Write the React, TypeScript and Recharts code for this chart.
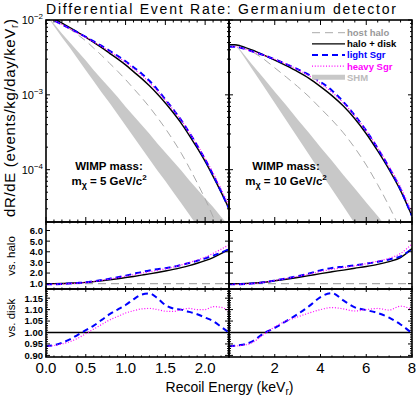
import React from "react";
import { ComposedChart, Line, Area, XAxis, YAxis, ReferenceLine } from "recharts";

const W = 416;
const H = 395;
const FONT = "'Liberation Sans', Arial, sans-serif";

// recoil energies (keV_r) sampled in each column
const eLeft = [0, 0.1, 0.2, 0.3, 0.4, 0.5, 0.6, 0.7, 0.8, 0.9, 1.0, 1.1, 1.2, 1.3, 1.4, 1.5, 1.6, 1.7, 1.8, 1.9, 2.0, 2.1, 2.2, 2.3];
const eRight = [0, 0.25, 0.5, 1, 1.5, 2, 2.5, 3, 3.5, 4, 4.5, 5, 5.5, 6, 6.5, 7, 7.5, 8];

// top row as log10(dR/dE)
const leftHostLog = [-1.92, -1.982, -2.049, -2.121, -2.198, -2.279, -2.376, -2.474, -2.579, -2.684, -2.796, -2.915, -3.035, -3.163, -3.302, -3.45, -3.609, -3.78, -3.971, -4.175, -4.391, -4.629, -4.882, -5.148];
const leftDiskLog = [-1.92, -1.98, -2.04, -2.1, -2.165, -2.23, -2.3, -2.37, -2.445, -2.52, -2.6, -2.69, -2.78, -2.88, -2.99, -3.11, -3.24, -3.38, -3.54, -3.71, -3.89, -4.09, -4.3, -4.52];
const leftLightLog = [-1.947, -2.005, -2.06, -2.113, -2.169, -2.226, -2.287, -2.347, -2.412, -2.479, -2.551, -2.631, -2.714, -2.812, -2.929, -3.061, -3.197, -3.339, -3.503, -3.677, -3.863, -4.069, -4.289, -4.52];
const leftHeavyLog = [-1.947, -2.006, -2.062, -2.118, -2.176, -2.232, -2.294, -2.355, -2.422, -2.491, -2.565, -2.651, -2.737, -2.837, -2.949, -3.071, -3.202, -3.339, -3.497, -3.669, -3.849, -4.044, -4.255, -4.481];
const leftShmLoLog = [-1.93, -2.08, -2.23, -2.37, -2.52, -2.67, -2.82, -2.97, -3.11, -3.26, -3.41, -3.56, -3.71, -3.86, -4.01, -4.15, -4.3, -4.45, -4.6, -4.75, -4.9, -5.05, -5.2, -5.35];
const leftShmHiLog = [-1.93, -2.05, -2.18, -2.3, -2.42, -2.54, -2.67, -2.79, -2.91, -3.03, -3.16, -3.28, -3.4, -3.52, -3.65, -3.77, -3.89, -4.01, -4.14, -4.26, -4.38, -4.5, -4.63, -4.75];

const rightHostLog = [-2.33, -2.33, -2.349, -2.421, -2.518, -2.639, -2.762, -2.889, -3.026, -3.18, -3.336, -3.508, -3.709, -3.938, -4.2, -4.489, -4.818, -5.254];
const rightDiskLog = [-2.33, -2.33, -2.345, -2.4, -2.465, -2.535, -2.61, -2.69, -2.78, -2.89, -3.01, -3.15, -3.32, -3.52, -3.75, -4.0, -4.28, -4.62];
const rightLightLog = [-2.357, -2.356, -2.37, -2.418, -2.467, -2.526, -2.589, -2.657, -2.733, -2.827, -2.941, -3.093, -3.275, -3.479, -3.715, -3.973, -4.265, -4.621];
const rightHeavyLog = [-2.357, -2.356, -2.371, -2.42, -2.469, -2.524, -2.589, -2.661, -2.745, -2.849, -2.965, -3.107, -3.281, -3.479, -3.707, -3.959, -4.233, -4.578];
const rightShmLoLog = [-2.33, -2.33, -2.42, -2.65, -2.88, -3.11, -3.34, -3.57, -3.8, -4.03, -4.26, -4.49, -4.72, -4.95, -5.18, -5.41, -5.64, -5.87];
const rightShmHiLog = [-2.33, -2.33, -2.4, -2.59, -2.77, -2.96, -3.14, -3.33, -3.51, -3.7, -3.88, -4.07, -4.25, -4.44, -4.62, -4.81, -4.99, -5.18];

// middle row: ratio to host halo
const leftDiskVsHalo = [1.0, 1.005, 1.02, 1.05, 1.08, 1.12, 1.19, 1.27, 1.36, 1.46, 1.57, 1.68, 1.8, 1.92, 2.05, 2.19, 2.34, 2.51, 2.7, 2.92, 3.17, 3.46, 3.82, 4.25];
const leftLightVsHalo = [0.94, 0.95, 0.974, 1.019, 1.069, 1.131, 1.226, 1.34, 1.469, 1.606, 1.758, 1.924, 2.097, 2.246, 2.358, 2.453, 2.586, 2.761, 2.943, 3.154, 3.376, 3.633, 3.916, 4.25];
const leftHeavyVsHalo = [0.94, 0.948, 0.969, 1.008, 1.053, 1.114, 1.208, 1.314, 1.435, 1.562, 1.703, 1.84, 1.985, 2.122, 2.255, 2.394, 2.555, 2.761, 2.984, 3.212, 3.487, 3.851, 4.24, 4.654];
const rightDiskVsHalo = [1.0, 1.0, 1.01, 1.05, 1.13, 1.27, 1.42, 1.58, 1.76, 1.95, 2.12, 2.28, 2.45, 2.62, 2.82, 3.08, 3.45, 4.3];
const rightLightVsHalo = [0.94, 0.942, 0.954, 1.008, 1.124, 1.295, 1.491, 1.706, 1.962, 2.252, 2.485, 2.599, 2.72, 2.877, 3.06, 3.28, 3.571, 4.287];
const rightHeavyVsHalo = [0.94, 0.941, 0.952, 1.003, 1.119, 1.302, 1.491, 1.687, 1.91, 2.145, 2.351, 2.515, 2.68, 2.882, 3.116, 3.382, 3.847, 4.734];

// bottom row: ratio to halo + disk
const leftLightVsDisk = [0.94, 0.945, 0.955, 0.97, 0.99, 1.01, 1.03, 1.055, 1.08, 1.1, 1.12, 1.145, 1.165, 1.17, 1.15, 1.12, 1.105, 1.1, 1.09, 1.08, 1.065, 1.05, 1.025, 1.0];
const leftHeavyVsDisk = [0.94, 0.943, 0.95, 0.96, 0.975, 0.995, 1.015, 1.035, 1.055, 1.07, 1.085, 1.095, 1.103, 1.105, 1.1, 1.093, 1.092, 1.1, 1.105, 1.1, 1.1, 1.113, 1.11, 1.095];
const rightLightVsDisk = [0.94, 0.942, 0.945, 0.96, 0.995, 1.02, 1.05, 1.08, 1.115, 1.155, 1.172, 1.14, 1.11, 1.098, 1.085, 1.065, 1.035, 0.997];
const rightHeavyVsDisk = [0.94, 0.941, 0.943, 0.955, 0.99, 1.025, 1.05, 1.068, 1.085, 1.1, 1.109, 1.103, 1.094, 1.1, 1.105, 1.098, 1.115, 1.101];

// ticks
const xTicksLeft = [0, 0.1, 0.2, 0.3, 0.4, 0.5, 0.6, 0.7, 0.8, 0.9, 1.0, 1.1, 1.2, 1.3, 1.4, 1.5, 1.6, 1.7, 1.8, 1.9, 2.0, 2.1, 2.2];
const xMajorLeft = [0, 0.5, 1.0, 1.5, 2.0];
const xTicksRight = [0, 0.5, 1, 1.5, 2, 2.5, 3, 3.5, 4, 4.5, 5, 5.5, 6, 6.5, 7, 7.5, 8];
const xMajorRight = [0, 2, 4, 6, 8];
const logTicks = [1e-2, 9e-3, 8e-3, 7e-3, 6e-3, 5e-3, 4e-3, 3e-3, 2e-3, 1e-3, 9e-4, 8e-4, 7e-4, 6e-4, 5e-4, 4e-4, 3e-4, 2e-4, 1e-4, 9e-5, 8e-5, 7e-5, 6e-5, 5e-5, 4e-5, 3e-5, 2e-5];
const logMajor = [1e-2, 1e-3, 1e-4];
const haloTicks = [1, 2, 3, 4, 5, 6];
const diskTicks = [0.9, 0.91, 0.92, 0.93, 0.94, 0.95, 0.96, 0.97, 0.98, 0.99, 1.0, 1.01, 1.02, 1.03, 1.04, 1.05, 1.06, 1.07, 1.08, 1.09, 1.1, 1.11, 1.12, 1.13, 1.14, 1.15, 1.16, 1.17, 1.18];
const diskMajor = [0.9, 0.95, 1.0, 1.05, 1.1, 1.15];

const COLS = [{ x0: 46, x1: 229 }, { x0: 229, x1: 412 }];
const ROWS = [{ y0: 20, y1: 222 }, { y0: 222, y1: 289 }, { y0: 289, y1: 357 }];

const HOST = "#aaaaaa";
const BLUE = "#0000ff";
const MAGENTA = "#ff00ff";

const topTable = (e: number[], host: number[], disk: number[], light: number[], heavy: number[], lo: number[], hi: number[]) =>
  e.map((E, i) => ({
    E,
    host: 10 ** host[i],
    disk: 10 ** disk[i],
    light: 10 ** light[i],
    heavy: 10 ** heavy[i],
    shm: [10 ** lo[i], 10 ** hi[i]],
  }));

const ratioTable = (e: number[], a: number[], b: number[], c?: number[]) =>
  e.map((E, i) => ({ E, disk: c ? a[i] : undefined, light: c ? b[i] : a[i], heavy: c ? c[i] : b[i] }));

const near = (a: number, b: number) => Math.abs(a - b) <= 1e-9 + Math.abs(b) * 1e-6;

function xTick(majors: number[], plotH: number, len: number, label?: (v: number) => string | null) {
  return (p: any) => {
    const v = p.payload.value;
    const major = majors.some((m) => near(v, m));
    const l = major ? len : len / 2;
    const text = major && label ? label(v) : null;
    return (
      <g>
        <line x1={p.x} x2={p.x} y1={p.y} y2={p.y - l} stroke="#000" />
        <line x1={p.x} x2={p.x} y1={p.y - plotH} y2={p.y - plotH + l} stroke="#000" />
        {text && (
          <text x={p.x} y={p.y + 16} textAnchor="middle" fontFamily={FONT} fontSize={15} fill="#000">
            {text}
          </text>
        )}
      </g>
    );
  };
}

function yTick(majors: number[], plotW: number, len: number, label?: (v: number) => React.ReactNode, bold = false, size = 11) {
  return (p: any) => {
    const v = p.payload.value;
    const major = majors.some((m) => near(v, m));
    const l = major ? len : len / 2;
    const text = major && label ? label(v) : null;
    return (
      <g>
        <line x1={p.x} x2={p.x + l} y1={p.y} y2={p.y} stroke="#000" />
        <line x1={p.x + plotW - l} x2={p.x + plotW} y1={p.y} y2={p.y} stroke="#000" />
        {text && (
          <text x={p.x - 3} y={p.y + size * 0.36} textAnchor="end" fontFamily={FONT} fontSize={size} fontWeight={bold ? "bold" : "normal"} fill="#000">
            {text}
          </text>
        )}
      </g>
    );
  };
}

const logLabel = (v: number) => (
  <>
    10<tspan dy={-5} fontSize={8}>{"\u2212" + Math.round(-Math.log10(v))}</tspan>
  </>
);

type PanelProps = {
  col: number;
  row: number;
  data: any[];
  xDomain: [number, number];
  xTicks: number[];
  xMajor: number[];
  xLabel?: (v: number) => string | null;
  yDomain: [number, number];
  yScale?: "log" | "linear";
  yTicks: number[];
  yMajor: number[];
  yLabel?: (v: number) => React.ReactNode;
  yBold?: boolean;
  ySize?: number;
  xLen: number;
  children: React.ReactNode;
};

function Panel(props: PanelProps) {
  const { x0, x1 } = COLS[props.col];
  const { y0, y1 } = ROWS[props.row];
  const AX = 20;
  const margin = { left: x0 - AX, right: W - x1, top: y0, bottom: H - y1 - AX };
  return (
    <div style={{ position: "absolute", left: 0, top: 0 }}>
      <ComposedChart width={W} height={H} data={props.data} margin={margin}>
        <XAxis
          dataKey="E"
          type="number"
          domain={props.xDomain}
          ticks={props.xTicks}
          interval={0}
          height={AX}
          tickSize={0}
          tickMargin={0}
          axisLine={false}
          tickLine={false}
          allowDataOverflow
          tick={xTick(props.xMajor, y1 - y0, props.xLen, props.xLabel)}
        />
        <YAxis
          type="number"
          scale={props.yScale ?? "linear"}
          domain={props.yDomain}
          ticks={props.yTicks}
          interval={0}
          width={AX}
          tickSize={0}
          tickMargin={0}
          axisLine={false}
          tickLine={false}
          allowDataOverflow
          tick={yTick(props.yMajor, x1 - x0, 4, props.yLabel, props.yBold, props.ySize)}
        />
        {props.children}
      </ComposedChart>
    </div>
  );
}

const lineCommon = { dot: false, activeDot: false, isAnimationActive: false, type: "monotone" as const };

function topSeries() {
  return [
    <Area key="shm" dataKey="shm" type="linear" fill="#c8c8c8" fillOpacity={1} stroke="none" isAnimationActive={false} />,
    <Line key="host" dataKey="host" stroke={HOST} strokeWidth={1} strokeDasharray="8 5" {...lineCommon} />,
    <Line key="disk" dataKey="disk" stroke="#000" strokeWidth={1.4} {...lineCommon} />,
    <Line key="light" dataKey="light" stroke={BLUE} strokeWidth={2} strokeDasharray="6 4" {...lineCommon} />,
    <Line key="heavy" dataKey="heavy" stroke={MAGENTA} strokeWidth={1.2} strokeDasharray="1 1.8" {...lineCommon} />,
  ];
}

function haloSeries() {
  return [
    <ReferenceLine key="ref" y={1} stroke={HOST} strokeWidth={1.2} strokeDasharray="8 5" />,
    <Line key="disk" dataKey="disk" stroke="#000" strokeWidth={1.4} {...lineCommon} />,
    <Line key="light" dataKey="light" stroke={BLUE} strokeWidth={2} strokeDasharray="6 4" {...lineCommon} />,
    <Line key="heavy" dataKey="heavy" stroke={MAGENTA} strokeWidth={1.2} strokeDasharray="1 1.8" {...lineCommon} />,
  ];
}

function diskSeries() {
  return [
    <ReferenceLine key="ref" y={1} stroke="#000" strokeWidth={1.4} />,
    <Line key="light" dataKey="light" stroke={BLUE} strokeWidth={2} strokeDasharray="6 4" {...lineCommon} />,
    <Line key="heavy" dataKey="heavy" stroke={MAGENTA} strokeWidth={1.2} strokeDasharray="1 1.8" {...lineCommon} />,
  ];
}

const legendRows = [
  { label: "host halo", color: "#999999", stroke: HOST, width: 1, dash: "8 5" },
  { label: "halo + disk", color: "#000000", stroke: "#000", width: 1.4, dash: undefined },
  { label: "light Sgr", color: BLUE, stroke: BLUE, width: 2, dash: "6 4" },
  { label: "heavy Sgr", color: MAGENTA, stroke: MAGENTA, width: 1.2, dash: "1 1.8" },
  { label: "SHM", color: "#bbbbbb", stroke: "#c8c8c8", width: 5, dash: undefined },
];

export default function App() {
  const topL = topTable(eLeft, leftHostLog, leftDiskLog, leftLightLog, leftHeavyLog, leftShmLoLog, leftShmHiLog);
  const topR = topTable(eRight, rightHostLog, rightDiskLog, rightLightLog, rightHeavyLog, rightShmLoLog, rightShmHiLog);
  const haloL = ratioTable(eLeft, leftDiskVsHalo, leftLightVsHalo, leftHeavyVsHalo);
  const haloR = ratioTable(eRight, rightDiskVsHalo, rightLightVsHalo, rightHeavyVsHalo);
  const diskL = ratioTable(eLeft, leftLightVsDisk, leftHeavyVsDisk);
  const diskR = ratioTable(eRight, rightLightVsDisk, rightHeavyVsDisk);

  const fix1 = (v: number) => v.toFixed(1);
  const fix2 = (v: number) => v.toFixed(2);
  const rightX = (v: number) => (v === 0 ? null : String(v));

  return (
    <div style={{ position: "absolute", left: 0, top: 0, width: W, height: H, background: "#fff" }}>
      <Panel col={0} row={0} data={topL} xDomain={[0, 2.3]} xTicks={xTicksLeft} xMajor={xMajorLeft} xLen={5}
        yDomain={[2e-5, 1e-2]} yScale="log" yTicks={logTicks} yMajor={logMajor} yLabel={logLabel}>
        {topSeries()}
      </Panel>
      <Panel col={1} row={0} data={topR} xDomain={[0, 8]} xTicks={xTicksRight} xMajor={xMajorRight} xLen={5}
        yDomain={[2e-5, 1e-2]} yScale="log" yTicks={logTicks} yMajor={logMajor}>
        {topSeries()}
      </Panel>
      <Panel col={0} row={1} data={haloL} xDomain={[0, 2.3]} xTicks={xTicksLeft} xMajor={xMajorLeft} xLen={3}
        yDomain={[0.5, 6.8]} yTicks={haloTicks} yMajor={haloTicks} yLabel={fix1} yBold ySize={9.5}>
        {haloSeries()}
      </Panel>
      <Panel col={1} row={1} data={haloR} xDomain={[0, 8]} xTicks={xTicksRight} xMajor={xMajorRight} xLen={3}
        yDomain={[0.5, 6.8]} yTicks={haloTicks} yMajor={haloTicks}>
        {haloSeries()}
      </Panel>
      <Panel col={0} row={2} data={diskL} xDomain={[0, 2.3]} xTicks={xTicksLeft} xMajor={xMajorLeft} xLen={3} xLabel={fix1}
        yDomain={[0.893, 1.19]} yTicks={diskTicks} yMajor={diskMajor} yLabel={fix2} yBold ySize={9.5}>
        {diskSeries()}
      </Panel>
      <Panel col={1} row={2} data={diskR} xDomain={[0, 8]} xTicks={xTicksRight} xMajor={xMajorRight} xLen={3} xLabel={rightX}
        yDomain={[0.893, 1.19]} yTicks={diskTicks} yMajor={diskMajor}>
        {diskSeries()}
      </Panel>

      <svg width={W} height={H} style={{ position: "absolute", left: 0, top: 0, pointerEvents: "none" }} fontFamily={FONT}>
        {COLS.map((c) =>
          ROWS.map((r) => (
            <rect key={`${c.x0}-${r.y0}`} x={c.x0} y={r.y0} width={c.x1 - c.x0} height={r.y1 - r.y0} fill="none" stroke="#000" strokeWidth={1.6} />
          ))
        )}
        <text x={221} y={14} textAnchor="middle" fontSize={14} textLength={350} lengthAdjust="spacing">
          Differential Event Rate: Germanium detector
        </text>
        <text transform="translate(15,118) rotate(-90)" textAnchor="middle" fontSize={15} textLength={198} lengthAdjust="spacing">
          dR/dE (events/kg/day/keV<tspan dy={3} fontSize={10}>r</tspan><tspan dy={-3}>)</tspan>
        </text>
        <text transform="translate(15,256) rotate(-90)" textAnchor="middle" fontSize={11.5}>vs. halo</text>
        <text transform="translate(15,318) rotate(-90)" textAnchor="middle" fontSize={11.5}>vs. disk</text>
        <text x={229.5} y={391.5} textAnchor="middle" fontSize={14}>
          Recoil Energy (keV<tspan dy={3} fontSize={10}>r</tspan><tspan dy={-3}>)</tspan>
        </text>

        {legendRows.map((r, i) => {
          const y = 32.7 + i * 11.15;
          return (
            <g key={r.label}>
              <line x1={312} x2={345} y1={y} y2={y} stroke={r.stroke} strokeWidth={r.width} strokeDasharray={r.dash} />
              <text x={347} y={y + 3.4} fontSize={9.5} fontWeight="bold" fill={r.color}>{r.label}</text>
            </g>
          );
        })}

        <text x={109} y={170} textAnchor="middle" fontSize={11.5} fontWeight="bold">WIMP mass:</text>
        <text x={109} y={185} textAnchor="middle" fontSize={11.5} fontWeight="bold">
          m<tspan dy={2.5} fontSize={9}>χ</tspan><tspan dy={-2.5}> = 5 GeV/c</tspan><tspan dy={-5} fontSize={8}>2</tspan>
        </text>
        <text x={286} y={170} textAnchor="middle" fontSize={11.5} fontWeight="bold">WIMP mass:</text>
        <text x={286} y={185} textAnchor="middle" fontSize={11.5} fontWeight="bold">
          m<tspan dy={2.5} fontSize={9}>χ</tspan><tspan dy={-2.5}> = 10 GeV/c</tspan><tspan dy={-5} fontSize={8}>2</tspan>
        </text>
      </svg>
    </div>
  );
}
